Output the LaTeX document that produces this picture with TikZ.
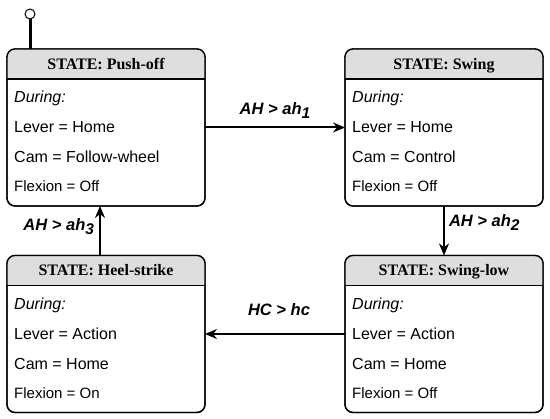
\documentclass[tikz,border=0pt]{standalone}
\usepackage{fontspec}
\setmainfont{Liberation Serif}
\setsansfont{Liberation Sans}
\usepackage{xcolor}
\usetikzlibrary{arrows.meta, positioning, calc}

\definecolor{headgray}{RGB}{222,222,222}
\newcommand{\gsub}[1]{\raisebox{-4pt}{\fontsize{15.5}{17}\selectfont #1}}

\begin{document}
\begin{tikzpicture}[x=1pt, y=-1pt,
    state/.style={rectangle, draw, rounded corners=8pt, line width=1.3pt, minimum width=198pt, minimum height=157pt, inner sep=0pt, outer sep=0pt},
    title/.style={font=\fontsize{16}{18}\selectfont\bfseries, anchor=base},
    attr/.style={font=\sffamily\fontsize{16}{18}\selectfont, anchor=base west, inner sep=0pt},
    flex/.style={font=\sffamily\fontsize{15}{17}\selectfont, anchor=base west, inner sep=0pt},
    trans/.style={-{Stealth[length=12pt, width=10pt]}, line width=2pt},
    guard/.style={font=\sffamily\bfseries\itshape\fontsize{16.5}{18}\selectfont, inner sep=0pt}
]
\useasboundingbox (0,0) rectangle (550,419);

% States
\foreach \n/\x/\y/\ttl/\lev/\cam/\flx in {
    pushoff/106/127.5/Push-off/Home/Follow-wheel/Off,
    swing/444/127.5/Swing/Home/Control/Off,
    heel/106/334/Heel-strike/Action/Home/On,
    swinglow/444/334/Swing-low/Action/Home/Off}{
  \node[state] (\n) at (\x,\y) {};
  \begin{scope}
    \clip[rounded corners=8pt] (\n.north west) rectangle (\n.south east);
    \fill[headgray] (\n.north west) rectangle ([yshift=-30pt]\n.north east);
  \end{scope}
  \draw[line width=1.3pt] ([yshift=-30pt]\n.north west) -- ([yshift=-30pt]\n.north east);
  \draw[line width=1.3pt, rounded corners=8pt] (\n.north west) rectangle (\n.south east);
  \node[title] (\n-title) at ([yshift=-20.5pt]\n.north) {STATE: \ttl};
  \node[attr] (\n-during) at ([xshift=7pt, yshift=-54pt]\n.north west) {\itshape During:};
  \node[attr] (\n-lever) at ([xshift=7pt, yshift=-84pt]\n.north west) {Lever = \lev};
  \node[attr] (\n-cam) at ([xshift=7pt, yshift=-114pt]\n.north west) {Cam = \cam};
  \node[flex] (\n-flex) at ([xshift=7pt, yshift=-143pt]\n.north west) {Flexion = \flx};
}

% Initial state
\node[circle, draw, fill=white, minimum size=10pt, inner sep=0pt, line width=1pt] (init) at (30,14) {};
\draw[line width=3pt] (init.south) -- (init.south |- pushoff.north);

% Transitions
\draw[trans] (pushoff) -- node[guard, anchor=base, yshift=13pt] {AH > ah\gsub{1}} (swing);
\draw[trans] (swing) -- node[guard, anchor=base west, xshift=4pt, yshift=4pt] {AH > ah\gsub{2}} (swinglow);
\draw[trans] (swinglow) -- node[guard, anchor=base, xshift=4pt, yshift=18pt] {HC > hc} (heel);
\draw[trans] ([xshift=-6pt]heel.north) -- node[guard, anchor=base east, xshift=-5pt, yshift=0pt] {AH > ah\gsub{3}} ([xshift=-6pt]pushoff.south);

\end{tikzpicture}
\end{document}
